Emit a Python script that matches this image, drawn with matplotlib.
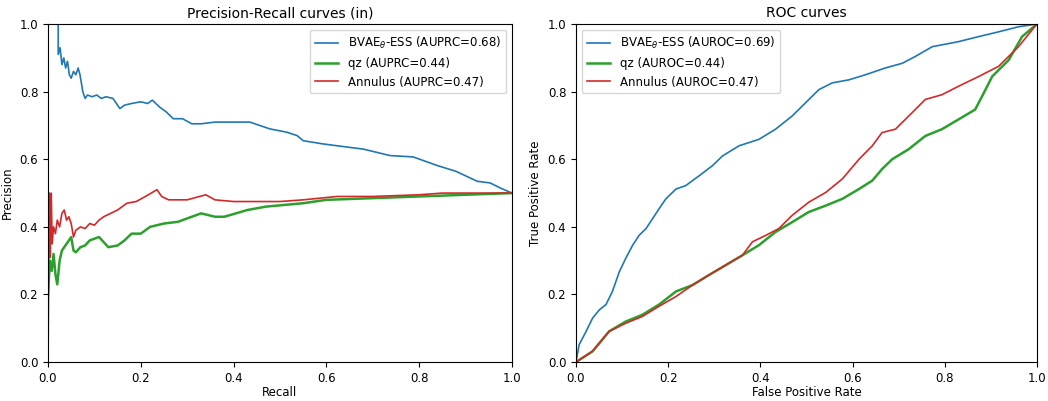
import matplotlib
matplotlib.use("Agg")
import matplotlib.pyplot as plt

# Precision-Recall curves
pr_blue_recall = [0.0, 0.022, 0.022, 0.026, 0.030, 0.034, 0.038, 0.042, 0.046, 0.050, 0.055,
                  0.060, 0.065, 0.069, 0.075, 0.080, 0.085, 0.095, 0.105, 0.115, 0.125, 0.140,
                  0.155, 0.165, 0.180, 0.200, 0.215, 0.225, 0.240, 0.255, 0.270, 0.290, 0.310,
                  0.330, 0.360, 0.400, 0.435, 0.478, 0.515, 0.537, 0.550, 0.590, 0.623, 0.680,
                  0.737, 0.787, 0.838, 0.880, 0.925, 0.953, 0.975, 1.0]
pr_blue_prec = [1.0, 1.0, 0.91, 0.93, 0.88, 0.90, 0.87, 0.89, 0.85, 0.84, 0.86,
                0.85, 0.87, 0.85, 0.80, 0.78, 0.79, 0.785, 0.79, 0.78, 0.785, 0.78,
                0.75, 0.76, 0.765, 0.77, 0.765, 0.775, 0.755, 0.74, 0.72, 0.72, 0.705,
                0.705, 0.71, 0.71, 0.71, 0.69, 0.68, 0.67, 0.655, 0.646, 0.640, 0.63,
                0.611, 0.607, 0.582, 0.564, 0.535, 0.53, 0.515, 0.50]

pr_green_recall = [0.0, 0.004, 0.008, 0.012, 0.016, 0.020, 0.025, 0.030, 0.035, 0.040, 0.050,
                   0.055, 0.060, 0.070, 0.080, 0.090, 0.100, 0.110, 0.120, 0.130, 0.150,
                   0.165, 0.180, 0.200, 0.220, 0.250, 0.280, 0.300, 0.330, 0.360, 0.380,
                   0.430, 0.470, 0.550, 0.600, 0.700, 0.800, 0.900, 1.0]
pr_green_prec = [0.20, 0.30, 0.27, 0.32, 0.26, 0.23, 0.30, 0.33, 0.34, 0.35, 0.37,
                 0.33, 0.325, 0.34, 0.345, 0.36, 0.365, 0.37, 0.355, 0.34, 0.345,
                 0.36, 0.38, 0.38, 0.40, 0.41, 0.415, 0.425, 0.44, 0.43, 0.43,
                 0.45, 0.46, 0.47, 0.48, 0.485, 0.49, 0.495, 0.50]

pr_red_recall = [0.0, 0.0, 0.003, 0.005, 0.007, 0.009, 0.012, 0.016, 0.020, 0.025, 0.030,
                 0.035, 0.040, 0.045, 0.050, 0.055, 0.060, 0.070, 0.080, 0.090, 0.100,
                 0.110, 0.120, 0.135, 0.150, 0.170, 0.190, 0.210, 0.235, 0.245, 0.260,
                 0.300, 0.340, 0.360, 0.400, 0.450, 0.500, 0.550, 0.623, 0.700, 0.800,
                 0.850, 0.900, 1.0]
pr_red_prec = [1.0, 0.0, 0.50, 0.31, 0.50, 0.35, 0.40, 0.38, 0.42, 0.40, 0.44,
               0.45, 0.42, 0.43, 0.41, 0.37, 0.39, 0.40, 0.395, 0.41, 0.405,
               0.42, 0.43, 0.44, 0.45, 0.47, 0.475, 0.49, 0.51, 0.49, 0.48,
               0.48, 0.495, 0.48, 0.475, 0.475, 0.475, 0.48, 0.49, 0.49, 0.495,
               0.50, 0.50, 0.50]

# ROC curves
roc_blue_fpr = [0.0, 0.007, 0.022, 0.036, 0.051, 0.065, 0.079, 0.094, 0.108, 0.123, 0.137,
                0.152, 0.166, 0.180, 0.195, 0.217, 0.238, 0.267, 0.296, 0.318, 0.354,
                0.397, 0.433, 0.469, 0.498, 0.527, 0.556, 0.592, 0.628, 0.671, 0.708,
                0.736, 0.773, 0.830, 0.874, 0.917, 0.960, 1.0]
roc_blue_tpr = [0.0, 0.052, 0.091, 0.130, 0.155, 0.170, 0.209, 0.267, 0.307, 0.346, 0.375,
                0.395, 0.424, 0.453, 0.483, 0.512, 0.522, 0.551, 0.581, 0.610, 0.640,
                0.659, 0.689, 0.728, 0.767, 0.806, 0.826, 0.835, 0.850, 0.870, 0.884,
                0.904, 0.933, 0.948, 0.963, 0.977, 0.992, 1.0]

roc_green_fpr = [0.0, 0.036, 0.072, 0.108, 0.144, 0.180, 0.217, 0.253, 0.289, 0.325, 0.361,
                 0.397, 0.433, 0.469, 0.505, 0.542, 0.578, 0.614, 0.643, 0.664, 0.686,
                 0.722, 0.758, 0.794, 0.830, 0.866, 0.881, 0.903, 0.939, 0.968, 1.0]
roc_green_tpr = [0.0, 0.032, 0.091, 0.120, 0.140, 0.170, 0.209, 0.228, 0.258, 0.287, 0.316,
                 0.346, 0.385, 0.414, 0.444, 0.463, 0.483, 0.512, 0.537, 0.571, 0.600,
                 0.630, 0.669, 0.689, 0.718, 0.747, 0.786, 0.845, 0.894, 0.963, 1.0]

roc_red_fpr = [0.0, 0.036, 0.072, 0.108, 0.144, 0.180, 0.217, 0.253, 0.289, 0.325, 0.361,
               0.383, 0.412, 0.440, 0.469, 0.505, 0.542, 0.578, 0.614, 0.643, 0.664,
               0.693, 0.722, 0.758, 0.794, 0.830, 0.874, 0.917, 0.960, 1.0]
roc_red_tpr = [0.0, 0.032, 0.091, 0.115, 0.135, 0.165, 0.194, 0.228, 0.258, 0.287, 0.316,
               0.356, 0.375, 0.395, 0.434, 0.473, 0.502, 0.542, 0.600, 0.640, 0.679,
               0.689, 0.728, 0.777, 0.791, 0.816, 0.845, 0.875, 0.933, 1.0]

pr_labels = [r"BVAE$_\theta$-ESS (AUPRC=0.68)", "qz (AUPRC=0.44)", "Annulus (AUPRC=0.47)"]
roc_labels = [r"BVAE$_\theta$-ESS (AUROC=0.69)", "qz (AUROC=0.44)", "Annulus (AUROC=0.47)"]

plt.rcParams["font.size"] = 8.5

fig = plt.figure(figsize=(10.48, 4.01), dpi=100)
ax1 = fig.add_axes([0.0458, 0.097, 0.4427, 0.843])
ax2 = fig.add_axes([0.5496, 0.097, 0.4398, 0.843])

# precision-recall
ax1.plot(pr_blue_recall, pr_blue_prec, color="C0", lw=1.2, label=pr_labels[0])
ax1.plot(pr_green_recall, pr_green_prec, color="C2", lw=1.8, label=pr_labels[1])
ax1.plot(pr_red_recall, pr_red_prec, color="C3", lw=1.2, label=pr_labels[2])
ax1.set_xlim(0, 1)
ax1.set_ylim(0, 1)
ax1.set_xlabel("Recall", labelpad=1)
ax1.set_ylabel("Precision", labelpad=4)
ax1.set_title("Precision-Recall curves (in)", fontsize=10, pad=5)
ax1.legend(loc="upper right", fontsize=8.5)

# roc
ax2.plot(roc_blue_fpr, roc_blue_tpr, color="C0", lw=1.2, label=roc_labels[0])
ax2.plot(roc_green_fpr, roc_green_tpr, color="C2", lw=1.8, label=roc_labels[1])
ax2.plot(roc_red_fpr, roc_red_tpr, color="C3", lw=1.2, label=roc_labels[2])
ax2.set_xlim(0, 1)
ax2.set_ylim(0, 1)
ax2.set_xlabel("False Positive Rate", labelpad=1)
ax2.set_ylabel("True Positive Rate", labelpad=4)
ax2.set_title("ROC curves", fontsize=10, pad=5)
ax2.legend(loc="upper left", fontsize=8.5)

fig.savefig("out.png", dpi=100)
